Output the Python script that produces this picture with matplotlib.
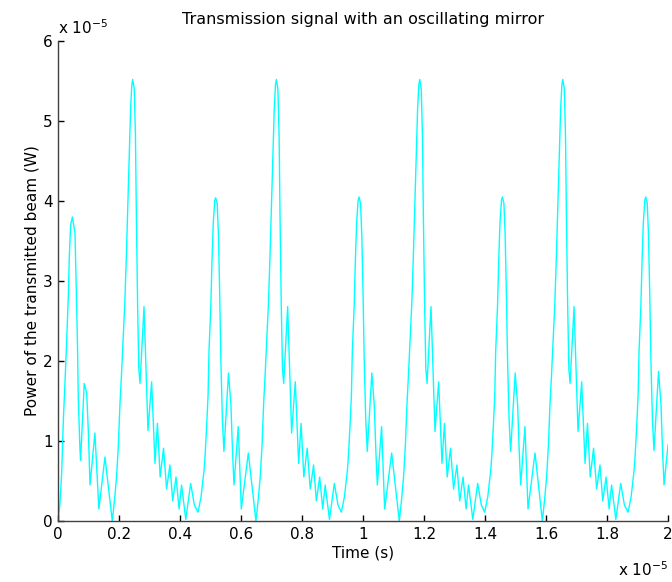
# Transmission signal of a cavity with an oscillating mirror (MATLAB-style figure)
import numpy as np
import matplotlib
matplotlib.use("Agg")
import matplotlib.pyplot as plt

# -------------------------------
# Data (time in units of 1e-5 s, power in 1e-5 W)
# -------------------------------
# start of the record, first (lower) medium peak
t_start = [0.000, 0.006, 0.012, 0.0175, 0.023, 0.0285, 0.034, 0.037, 0.0415, 0.047,
           0.0557, 0.059, 0.0634, 0.0667, 0.072, 0.074, 0.086, 0.094, 0.0995, 0.105,
           0.121, 0.134, 0.154, 0.178]
p_start = [0.00, 0.20, 0.60, 1.26, 1.74, 2.26, 2.83, 3.30, 3.70, 3.80,
           3.60, 3.06, 2.30, 1.50, 0.90, 0.76, 1.72, 1.60, 1.12, 0.45,
           1.10, 0.15, 0.80, 0.00]

# big peaks (about 5.5) and their ringing tail
t_big1 = [0.185, 0.192, 0.198, 0.203, 0.208, 0.213, 0.219, 0.224, 0.229, 0.234, 0.238, 0.242,
          0.245, 0.250, 0.254, 0.257, 0.261, 0.265, 0.269, 0.282, 0.295, 0.307, 0.318, 0.326,
          0.335, 0.346, 0.356, 0.367, 0.376, 0.387, 0.397, 0.405, 0.419, 0.435, 0.447]
t_big2 = [0.649, 0.656, 0.663, 0.669, 0.674, 0.679, 0.684, 0.690, 0.695, 0.700, 0.705, 0.709,
          0.713, 0.716, 0.721, 0.725, 0.728, 0.732, 0.736, 0.740, 0.753, 0.766, 0.778, 0.789,
          0.797, 0.806, 0.817, 0.827, 0.838, 0.847, 0.858, 0.868, 0.876, 0.890, 0.906, 0.918]
t_big3 = [1.119, 1.126, 1.133, 1.139, 1.144, 1.149, 1.154, 1.160, 1.165, 1.170, 1.175, 1.179,
          1.183, 1.186, 1.191, 1.195, 1.198, 1.202, 1.206, 1.210, 1.223, 1.236, 1.248, 1.259,
          1.267, 1.276, 1.287, 1.297, 1.308, 1.317, 1.328, 1.338, 1.346, 1.360, 1.376, 1.388]
t_big4 = [1.588, 1.595, 1.602, 1.608, 1.613, 1.618, 1.623, 1.629, 1.634, 1.639, 1.644, 1.648,
          1.652, 1.655, 1.660, 1.664, 1.667, 1.671, 1.675, 1.679, 1.692, 1.705, 1.717, 1.728,
          1.736, 1.745, 1.756, 1.766, 1.777, 1.786, 1.797, 1.807, 1.815, 1.829, 1.845, 1.857]
p_big1 = [0.25, 0.55, 0.95, 1.45, 1.82, 2.23, 2.72, 3.30, 3.95, 4.60, 5.15, 5.45,
          5.52, 5.40, 4.80, 3.80, 2.70, 1.90, 1.72, 2.68, 1.13, 1.74, 0.72, 1.22,
          0.55, 0.91, 0.40, 0.70, 0.25, 0.55, 0.15, 0.45, 0.02, 0.47, 0.20]
p_big2 = [0.00, 0.25, 0.55, 0.95, 1.45, 1.82, 2.23, 2.72, 3.30, 3.95, 4.60, 5.15,
          5.45, 5.52, 5.40, 4.80, 3.80, 2.70, 1.90, 1.72, 2.68, 1.10, 1.74, 0.72,
          1.22, 0.55, 0.91, 0.40, 0.70, 0.25, 0.55, 0.15, 0.45, 0.02, 0.47, 0.20]
p_big3 = [0.00, 0.25, 0.55, 0.95, 1.45, 1.82, 2.23, 2.72, 3.30, 3.95, 4.60, 5.15,
          5.45, 5.52, 5.40, 4.80, 3.80, 2.70, 1.90, 1.72, 2.68, 1.12, 1.74, 0.72,
          1.22, 0.55, 0.91, 0.40, 0.70, 0.25, 0.55, 0.15, 0.45, 0.02, 0.47, 0.20]
p_big4 = [0.00, 0.25, 0.55, 0.95, 1.45, 1.82, 2.23, 2.72, 3.30, 3.95, 4.60, 5.15,
          5.45, 5.52, 5.40, 4.80, 3.80, 2.70, 1.90, 1.72, 2.68, 1.12, 1.74, 0.72,
          1.22, 0.55, 0.91, 0.40, 0.70, 0.25, 0.55, 0.15, 0.45, 0.02, 0.47, 0.20]

# medium peaks (about 4.05) and their ringing tail
t_mid1 = [0.459, 0.469, 0.479, 0.482, 0.487, 0.492, 0.495, 0.501, 0.505, 0.509, 0.514, 0.517,
          0.522, 0.526, 0.530, 0.534, 0.539, 0.544, 0.559, 0.567, 0.572, 0.577, 0.591, 0.601, 0.624]
t_mid2 = [0.929, 0.939, 0.949, 0.952, 0.957, 0.962, 0.965, 0.971, 0.975, 0.979, 0.984, 0.987,
          0.992, 0.996, 1.000, 1.004, 1.009, 1.014, 1.029, 1.037, 1.042, 1.047, 1.061, 1.071, 1.094]
t_mid3 = [1.399, 1.409, 1.419, 1.422, 1.427, 1.432, 1.435, 1.441, 1.445, 1.449, 1.454, 1.457,
          1.462, 1.466, 1.470, 1.474, 1.479, 1.484, 1.499, 1.507, 1.512, 1.517, 1.531, 1.541, 1.564]
t_mid4 = [1.869, 1.879, 1.889, 1.892, 1.897, 1.902, 1.905, 1.911, 1.915, 1.919, 1.924, 1.927,
          1.932, 1.936, 1.940, 1.944, 1.949, 1.954, 1.969, 1.977, 1.982, 1.987, 2.000]
p_mid1 = [0.11, 0.30, 0.64, 0.80, 1.16, 1.57, 2.12, 2.68, 3.26, 3.72, 4.01, 4.04,
          3.97, 3.58, 2.87, 2.01, 1.26, 0.87, 1.85, 1.45, 0.89, 0.45, 1.18, 0.15, 0.85]
p_mid2 = [0.11, 0.30, 0.64, 0.80, 1.16, 1.57, 2.12, 2.68, 3.26, 3.72, 4.01, 4.05,
          3.97, 3.58, 2.87, 2.01, 1.26, 0.87, 1.85, 1.45, 0.89, 0.45, 1.18, 0.15, 0.85]
p_mid3 = [0.11, 0.30, 0.64, 0.80, 1.16, 1.57, 2.12, 2.68, 3.26, 3.72, 4.01, 4.05,
          3.97, 3.58, 2.87, 2.01, 1.26, 0.87, 1.85, 1.45, 0.89, 0.45, 1.18, 0.15, 0.85]
p_mid4 = [0.11, 0.30, 0.64, 0.80, 1.16, 1.57, 2.12, 2.68, 3.26, 3.72, 4.01, 4.05,
          3.97, 3.58, 2.87, 2.01, 1.26, 0.88, 1.87, 1.45, 0.89, 0.45, 0.95]

x_ticks = [0, 0.2, 0.4, 0.6, 0.8, 1, 1.2, 1.4, 1.6, 1.8, 2]
x_tick_labels = ["0", "0.2", "0.4", "0.6", "0.8", "1", "1.2", "1.4", "1.6", "1.8", "2"]
y_ticks = [0, 1, 2, 3, 4, 5, 6]

time = np.concatenate([t_start, t_big1, t_mid1, t_big2, t_mid2,
                       t_big3, t_mid3, t_big4, t_mid4]) * 1e-5
power = np.concatenate([p_start, p_big1, p_mid1, p_big2, p_mid2,
                        p_big3, p_mid3, p_big4, p_mid4]) * 1e-5

# -------------------------------
# Figure
# -------------------------------
plt.rcParams['font.family'] = ['DejaVu Sans']
W, H = 672, 582
fig = plt.figure(figsize=(W / 100, H / 100), dpi=100)
ax = fig.add_axes([58 / W, 1 - 521 / H, 610 / W, 480 / H])

ax.plot(time, power, color=(0, 1, 1), lw=1.0)

ax.set_xlim(0, 2e-5)
ax.set_ylim(0, 6e-5)
ax.set_xticks([v * 1e-5 for v in x_ticks])
ax.set_xticklabels(x_tick_labels)
ax.set_yticks([v * 1e-5 for v in y_ticks])
ax.set_yticklabels([str(v) for v in y_ticks])

for s in ["top", "right"]:
    ax.spines[s].set_visible(False)
for s in ["left", "bottom"]:
    ax.spines[s].set_color("#404040")
    ax.spines[s].set_linewidth(1.0)
ax.tick_params(direction="in", length=4, width=1, colors="black", labelsize=11, pad=4)

ax.set_title("Transmission signal with an oscillating mirror", fontsize=11.5, pad=12)
ax.set_xlabel("Time (s)", fontsize=11, labelpad=3)
ax.set_ylabel("Power of the transmitted beam (W)", fontsize=11, labelpad=2)

# MATLAB style exponent labels
fig.text(58 / W, 1 - 34 / H, r"x 10$^{-5}$", fontsize=11, ha="left", va="baseline")
fig.text(618 / W, 1 - 576 / H, r"x 10$^{-5}$", fontsize=11, ha="left", va="baseline")

fig.savefig("out.png", dpi=100)
